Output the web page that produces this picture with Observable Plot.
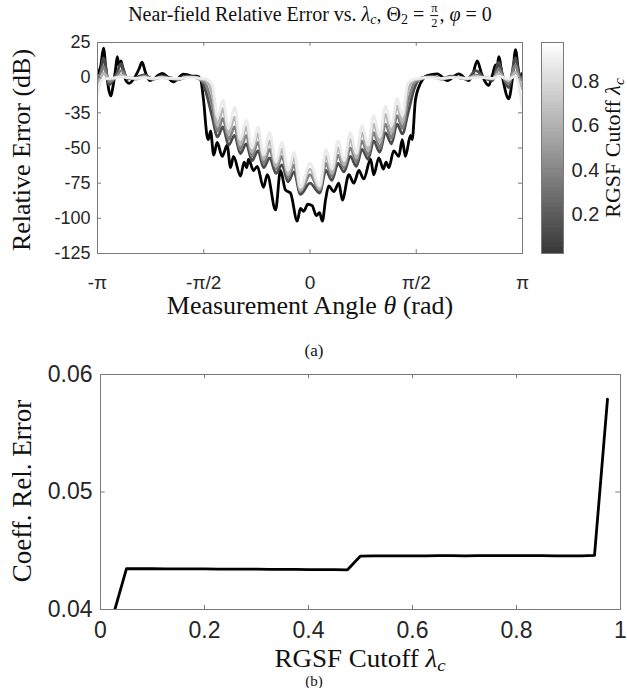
<!DOCTYPE html>
<html><head><meta charset="utf-8">
<script src="https://cdn.jsdelivr.net/npm/d3@7"></script>
<script src="https://cdn.jsdelivr.net/npm/@observablehq/plot@0.6"></script>
<style>
body{margin:0;background:#fff;}
#root{position:relative;width:627px;height:688px;overflow:hidden;font-family:"Liberation Serif","Times New Roman",serif;color:#111;}
.abs{position:absolute;white-space:nowrap;line-height:1;}
.frac{display:inline-flex;flex-direction:column;align-items:center;vertical-align:middle;font-size:0.62em;margin:0 1px;}
.frac span:first-child{border-bottom:1px solid #111;padding:0 1px 1px;}
.frac span:last-child{padding-top:1px;}
sub{font-size:0.7em;vertical-align:-0.25em;line-height:0;}
svg{overflow:visible;}
</style></head><body><div id="root"></div><script>
// ---------- panel (a) data ----------
const thetaOverPi = [-1.0, -0.985, -0.972, -0.945, -0.91, -0.889, -0.86, -0.82, -0.78, -0.74, -0.70, -0.66, -0.62, -0.58, -0.54, -0.515,
 -0.49, -0.46, -0.435, -0.41, -0.383, -0.355, -0.328, -0.30, -0.273, -0.245, -0.218, -0.19, -0.16, -0.132, -0.103, -0.075, -0.045,
 0,
 0.045, 0.075, 0.103, 0.132, 0.16, 0.19, 0.218, 0.245, 0.273, 0.30, 0.328, 0.355, 0.383, 0.41, 0.435, 0.46, 0.49,
 0.515, 0.54, 0.58, 0.62, 0.66, 0.70, 0.74, 0.78, 0.82, 0.86, 0.888, 0.91, 0.935, 0.967, 0.985, 1.0];
const seriesLambda = [0.3, 0.5, 0.7, 0.9];
const err030 = [-3, 4, 14, -5, 3, 10, -1, 0, 2, -1, 1, 0, -1.5, 1, 0.5, -1,
 -10, -28, -42, -35, -48, -41, -54, -47, -59, -52, -64, -57, -68, -62, -74, -67, -83,
 -75,
 -82, -66, -73, -61, -67, -56, -63, -51, -58, -45, -53, -39, -47, -33, -40, -26, -8,
 -1, 0.5, 1, -1, 1, 0, -1, 5, 0, -2, 11, 0, -7, 14, 2, 0];
const err050 = [-2, 2, 8, -3, 1, 5, 0, -1, 1, -1, 0.5, -0.5, -1, 0.5, 0, -1.5,
 -5, -20, -38, -29, -44, -35, -51, -41, -56, -46, -61, -51, -65, -56, -71, -62, -81,
 -69,
 -80, -61, -70, -55, -64, -50, -60, -45, -55, -39, -50, -33, -43, -27, -36, -18, -4,
 -1.5, 0, 0.5, -0.5, 0.5, 0, -1, 2, 0, -1, 6, 0, -4, 9, 0, -2];
const err070 = [-6, 0, 3, -1, 0, 2, 0, -0.5, 0.5, -1, 0, -0.5, -1, 0, 0, -1,
 -2, -12, -34, -22, -40, -28, -48, -35, -53, -40, -58, -45, -63, -51, -69, -57, -80,
 -65,
 -79, -56, -68, -50, -62, -44, -57, -39, -52, -33, -46, -26, -39, -20, -32, -10, -2,
 -1, 0, 0, -0.5, 0, 0, -0.5, 1, 0, -0.5, 3, 0, -2, 4, -2, -8];
const err090 = [-12, -3, -1, -0.5, 0, 0.5, 0, -0.5, 0, -0.5, 0, -0.5, -0.5, 0, 0, -0.5,
 -1, -5, -28, -16, -36, -21, -44, -30, -50, -35, -55, -39, -60, -46, -66, -53, -78,
 -61,
 -77, -51, -65, -45, -59, -39, -54, -34, -48, -27, -42, -20, -34, -15, -27, -4, -1,
 -0.5, 0, 0, -0.5, 0, 0, -0.5, 0, 0, -0.5, 1, 0, -1, 1, -8, -22];
const blackLambda = 0.025;
const errBlack = [[-1.000, 3], [-0.985, 8], [-0.972, 21], [-0.960, 6], [-0.945, -10], [-0.937, -13], [-0.928, -7], [-0.915, 6], [-0.907, 15], [-0.898, 8], [-0.889, 12], [-0.877, 3], [-0.862, -3], [-0.850, -4], [-0.830, -1], [-0.805, 6], [-0.790, 11], [-0.775, 4], [-0.755, -2], [-0.735, -1], [-0.712, 2], [-0.694, 3], [-0.670, 0.5], [-0.645, -3], [-0.620, -0.5], [-0.597, 2.5], [-0.575, 2], [-0.550, 1], [-0.530, 1], [-0.515, -1],
 [-0.501, -16], [-0.484, -42], [-0.478, -44], [-0.468, -38], [-0.453, -55], [-0.437, -46], [-0.413, -56], [-0.390, -48], [-0.374, -64], [-0.360, -56], [-0.327, -70], [-0.310, -60], [-0.298, -64], [-0.289, -58], [-0.266, -66], [-0.248, -63], [-0.219, -78], [-0.201, -69], [-0.162, -94], [-0.139, -66], [-0.115, -80], [-0.092, -82], [-0.060, -102], [-0.045, -93], [-0.030, -95], [-0.010, -90], [0.010, -91], [0.030, -98], [0.045, -96], [0.058, -102],
 [0.073, -87], [0.088, -77], [0.112, -81], [0.136, -75], [0.152, -87], [0.183, -69], [0.206, -75], [0.230, -66], [0.253, -72], [0.285, -58], [0.300, -69], [0.324, -57], [0.345, -65], [0.358, -60], [0.371, -64], [0.394, -52], [0.418, -56], [0.434, -44], [0.449, -56], [0.473, -41], [0.481, -44], [0.496, -16], [0.520, -4],
 [0.552, 1.5], [0.599, 2.7], [0.646, -2], [0.700, 2.7], [0.747, -2], [0.765, 2], [0.787, 12], [0.807, 3], [0.841, -5.5], [0.859, 2], [0.873, 9], [0.880, 6], [0.888, 15], [0.906, 0], [0.935, -15], [0.953, 0], [0.967, 20], [0.981, 5], [0.991, 0.5], [1.0, 3]];
const xTickPi = [-1, -0.5, 0, 0.5, 1];
const xTickLabels = ["-π", "-π/2", "0", "π/2", "π"];
const yTickValues = [25, 0, -25, -50, -75, -100, -125];
const yTickLabels = ["25", "0", "-35", "-50", "-75", "-100", "-125"];
const cbTicks = [0.2, 0.4, 0.6, 0.8];

// ---------- panel (b) data ----------
const lambdaCutoff = [0.025, 0.05, 0.075, 0.1, 0.125, 0.15, 0.175, 0.2, 0.225, 0.25, 0.275, 0.3, 0.325, 0.35, 0.375, 0.4, 0.425, 0.45, 0.475,
 0.5, 0.525, 0.55, 0.575, 0.6, 0.625, 0.65, 0.675, 0.7, 0.725, 0.75, 0.775, 0.8, 0.825, 0.85, 0.875, 0.9, 0.925, 0.95, 0.975];
const coeffRelError = [0.0396, 0.04348, 0.04347, 0.04347, 0.04346, 0.04346, 0.04345, 0.04345, 0.04344, 0.04344, 0.04343, 0.04343, 0.04342, 0.04342, 0.04341, 0.04340, 0.04340, 0.04339, 0.04338,
 0.04455, 0.04456, 0.04456, 0.04457, 0.04457, 0.04457, 0.04458, 0.04458, 0.04457, 0.04458, 0.04458, 0.04458, 0.04458, 0.04458, 0.04458, 0.04457, 0.04457, 0.04457, 0.04460, 0.05790];
const bXTicks = [0, 0.2, 0.4, 0.6, 0.8, 1];
const bYTicks = [0.04, 0.05, 0.06];

// ---------- build ----------
const root = document.getElementById("root");
const AX = "#7a7a7a";
const sans = "'Liberation Sans', Arial, sans-serif";
const grayScale = {type: "linear", domain: [0.025, 0.975], range: ["#000000", "#ffffff"]};

const topRows = [];
errBlack.forEach(([t, v]) => topRows.push({theta: t * Math.PI, db: v, lam: blackLambda}));
[err030, err050, err070, err090].forEach((arr, k) =>
  arr.forEach((v, i) => topRows.push({theta: thetaOverPi[i] * Math.PI, db: v, lam: seriesLambda[k]})));

const xTicksRad = xTickPi.map(d => d * Math.PI);
const xInner = xTicksRad.slice(1, -1);
const yInner = yTickValues.slice(1, -1);

const topPlot = Plot.plot({
  width: 627, height: 300,
  marginTop: 42, marginBottom: 47, marginLeft: 97, marginRight: 105,
  style: {fontFamily: sans, fontSize: "19px", color: "#262626", background: "transparent"},
  x: {domain: [-Math.PI, Math.PI]},
  y: {domain: [-125, 25]},
  color: grayScale,
  marks: [
    Plot.line(topRows, {x: "theta", y: "db", z: "lam", stroke: "lam", strokeWidth: 2.8, curve: "monotone-x", clip: true}),
    Plot.ruleX(xInner, {y1: -125, y2: -122.3, stroke: AX}),
    Plot.ruleX(xInner, {y1: 25, y2: 22.3, stroke: AX}),
    Plot.ruleY(yInner, {x1: -Math.PI, x2: -Math.PI + 0.06, stroke: AX}),
    Plot.ruleY(yInner, {x1: Math.PI - 0.06, x2: Math.PI, stroke: AX}),
    Plot.frame({stroke: AX}),
    Plot.axisX(xTicksRad, {tickSize: 0, tickPadding: 22, fontSize: 19, label: null,
      tickFormat: d => xTickLabels[xTicksRad.indexOf(d)]}),
    Plot.axisY(yTickValues, {tickSize: 0, tickPadding: 7, fontSize: 18, label: null,
      tickFormat: d => yTickLabels[yTickValues.indexOf(d)]})
  ]
});
topPlot.style.position = "absolute"; topPlot.style.left = "0px"; topPlot.style.top = "0px";
root.appendChild(topPlot);

const cbLevels = d3.range(0.025, 0.975, 0.0025);
const cbPlot = Plot.plot({
  width: 86, height: 300,
  marginTop: 42, marginBottom: 47, marginLeft: 0, marginRight: 64,
  style: {fontFamily: sans, fontSize: "20px", color: "#262626", background: "transparent"},
  x: {domain: [0, 1], axis: null},
  y: {domain: [0.025, 0.975]},
  color: grayScale,
  marks: [
    Plot.rect(cbLevels, {x1: 0, x2: 1, y1: d => d, y2: d => Math.min(0.975, d + 0.0027), fill: d => d + 0.00125}),
    Plot.frame({stroke: AX}),
    Plot.axisY(cbTicks, {anchor: "right", tickSize: 0, tickPadding: 8, fontSize: 20, label: null, tickFormat: d => d.toFixed(1)})
  ]
});
cbPlot.style.position = "absolute"; cbPlot.style.left = "541px"; cbPlot.style.top = "0px";
root.appendChild(cbPlot);

const bRows = lambdaCutoff.map((l, i) => ({lam: l, err: coeffRelError[i]}));
const bottomPlot = Plot.plot({
  width: 627, height: 310,
  marginTop: 34, marginBottom: 41, marginLeft: 100, marginRight: 7,
  style: {fontFamily: sans, fontSize: "23px", color: "#262626", background: "transparent"},
  x: {domain: [0, 1]},
  y: {domain: [0.04, 0.06]},
  marks: [
    Plot.line(bRows, {x: "lam", y: "err", stroke: "#000", strokeWidth: 2.8, clip: true}),
    Plot.ruleX(bXTicks.slice(1, -1), {y1: 0.04, y2: 0.04035, stroke: AX}),
    Plot.ruleX(bXTicks.slice(1, -1), {y1: 0.06, y2: 0.05965, stroke: AX}),
    Plot.ruleY([0.05], {x1: 0, x2: 0.009, stroke: AX}),
    Plot.ruleY([0.05], {x1: 0.991, x2: 1, stroke: AX}),
    Plot.frame({stroke: AX}),
    Plot.axisX(bXTicks, {tickSize: 0, tickPadding: 12, fontSize: 23, label: null, tickFormat: d3.format("~g")}),
    Plot.axisY(bYTicks, {tickSize: 0, tickPadding: 8, fontSize: 23, label: null, tickFormat: d3.format(".2f")})
  ]
});
bottomPlot.style.position = "absolute"; bottomPlot.style.left = "0px"; bottomPlot.style.top = "340px";
root.appendChild(bottomPlot);

function addText(html, x, y, size, rotate, sx) {
  const d = document.createElement("div");
  d.className = "abs";
  d.innerHTML = html;
  d.style.left = x + "px"; d.style.top = y + "px";
  d.style.fontSize = size + "px";
  d.style.transform = "translate(-50%, -50%)" + (rotate ? " rotate(-90deg)" : "") + (sx ? ` scaleX(${sx})` : "");
  root.appendChild(d);
  return d;
}
addText('Near-field Relative Error vs. <i>λ</i><sub><i>c</i></sub>, Θ<sub>2</sub> = <span class="frac"><span>π</span><span>2</span></span>, <i>φ</i> = 0', 310, 16, 20, false);
addText('Relative Error (dB)', 22, 150, 26, true);
addText('Measurement Angle <i>θ</i> (rad)', 310, 306, 26, false);
addText('RGSF Cutoff <i>λ</i><sub><i>c</i></sub>', 613, 148, 22, true);
addText('(a)', 314, 350, 17, false);
addText('Coeff. Rel. Error', 22, 491, 27, true);
addText('RGSF Cutoff <i>λ</i><sub><i>c</i></sub>', 360, 658, 25, false, 1.08);
addText('(b)', 314, 681, 15, false);
</script></body></html>
